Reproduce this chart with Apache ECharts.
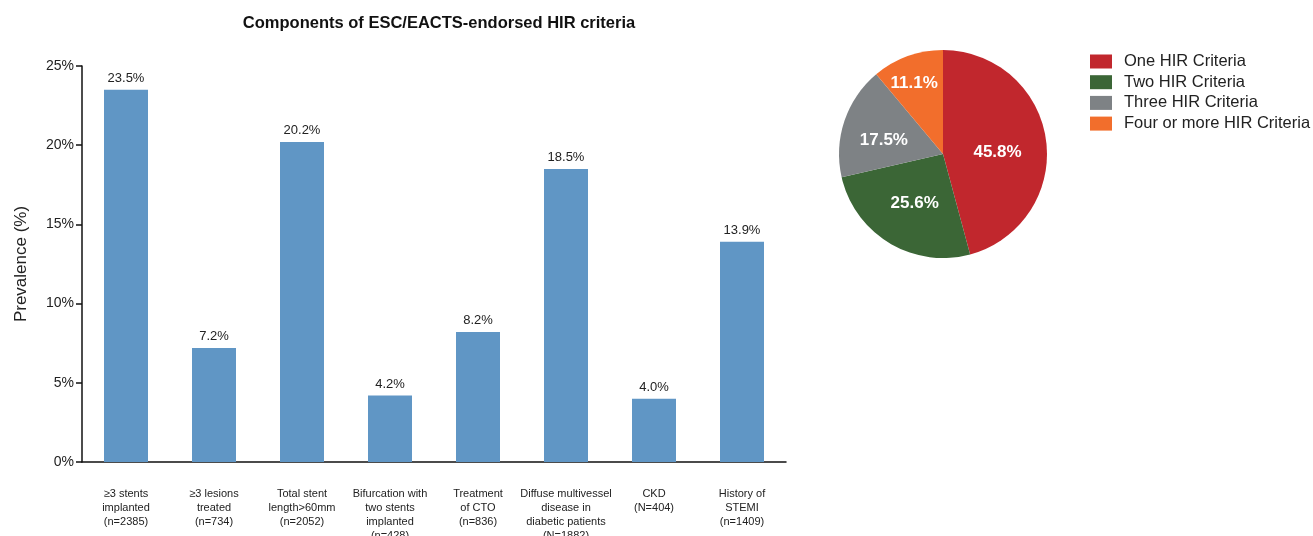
<!DOCTYPE html>
<html>
<head>
<meta charset="utf-8">
<script src="https://cdn.jsdelivr.net/npm/echarts@6/dist/echarts.min.js"></script>
<style>
  html, body { margin: 0; padding: 0; background: #fff; overflow: hidden; }
  #chart { width: 1313px; height: 536px; }
</style>
</head>
<body>
<div id="chart"></div>
<script>
// HIR components (bar chart)
const categories = [
  '≥3 stents\nimplanted\n(n=2385)',
  '≥3 lesions\ntreated\n(n=734)',
  'Total stent\nlength>60mm\n(n=2052)',
  'Bifurcation with\ntwo stents\nimplanted\n(n=428)',
  'Treatment\nof CTO\n(n=836)',
  'Diffuse multivessel\ndisease in\ndiabetic patients\n(N=1882)',
  'CKD\n(N=404)',
  'History of\nSTEMI\n(n=1409)'
];
const prevalence = [23.5, 7.2, 20.2, 4.2, 8.2, 18.5, 4.0, 13.9];
const yTicks = [0, 5, 10, 15, 20, 25];

// Number of HIR criteria met (pie chart)
const pieNames = ['One HIR Criteria', 'Two HIR Criteria', 'Three HIR Criteria', 'Four or more HIR Criteria'];
const pieValues = [45.8, 25.6, 17.5, 11.1];
const pieColors = ['#c1272d', '#3b6636', '#7e8285', '#f26e2c'];
// nudges for the in-slice percentage labels
const pieLabelOffsets = [[0, 6], [0, 2], [-7, 4], [-10, -19]];

const font = 'Liberation Sans, Arial, sans-serif';
const chart = echarts.init(document.getElementById('chart'));

chart.setOption({
  animation: false,
  textStyle: { fontFamily: font },
  title: {
    text: 'Components of ESC/EACTS-endorsed HIR criteria',
    left: 434,
    textAlign: 'center',
    top: 10,
    textStyle: { fontSize: 16.5, fontWeight: 'bold', color: '#111', fontFamily: font }
  },
  legend: {
    data: pieNames,
    orient: 'vertical',
    left: 1090,
    top: 53,
    padding: 0,
    icon: 'rect',
    itemWidth: 22,
    itemHeight: 14,
    itemGap: 3.7,
    textStyle: { fontSize: 16.5, lineHeight: 17, color: '#222', fontFamily: font, padding: [0, 0, 0, 7] }
  },
  grid: { left: 82, top: 66, width: 704, height: 396, containLabel: false, outerBoundsMode: 'none' },
  xAxis: {
    type: 'category',
    data: categories,
    axisLine: { lineStyle: { color: '#111', width: 1.5 } },
    axisTick: { alignWithLabel: true, length: 6, lineStyle: { color: '#111', width: 1.5 } },
    axisLabel: {
      interval: 0,
      margin: 25,
      fontSize: 11,
      lineHeight: 14,
      color: '#222',
      fontFamily: font
    }
  },
  yAxis: {
    type: 'value',
    min: yTicks[0],
    max: yTicks[yTicks.length - 1],
    interval: 5,
    name: 'Prevalence (%)',
    nameLocation: 'middle',
    nameGap: 52,
    nameTextStyle: { fontSize: 17, color: '#222', fontFamily: font },
    axisLine: { show: true, lineStyle: { color: '#111', width: 1.5 } },
    axisTick: { show: true, length: 6, lineStyle: { color: '#111', width: 1.5 } },
    splitLine: { show: false },
    axisLabel: { formatter: '{value}%', fontSize: 14, color: '#222', margin: 8, fontFamily: font }
  },
  series: [
    {
      type: 'bar',
      data: prevalence,
      barWidth: '50%',
      itemStyle: { color: '#6096c5' },
      label: {
        show: true,
        position: 'top',
        distance: 5,
        fontSize: 13,
        color: '#222',
        fontFamily: font,
        formatter: p => p.value.toFixed(1) + '%'
      }
    },
    {
      type: 'pie',
      center: [943, 154],
      radius: 104,
      startAngle: 90,
      clockwise: true,
      data: pieNames.map((n, i) => ({
        name: n,
        value: pieValues[i],
        itemStyle: { color: pieColors[i] },
        label: { offset: pieLabelOffsets[i] }
      })),
      label: {
        show: true,
        position: 'inside',
        formatter: p => p.value.toFixed(1) + '%',
        color: '#fff',
        fontSize: 17,
        fontWeight: 'bold',
        fontFamily: font
      },
      labelLine: { show: false },
      itemStyle: { borderWidth: 0 }
    }
  ]
});
</script>
</body>
</html>
